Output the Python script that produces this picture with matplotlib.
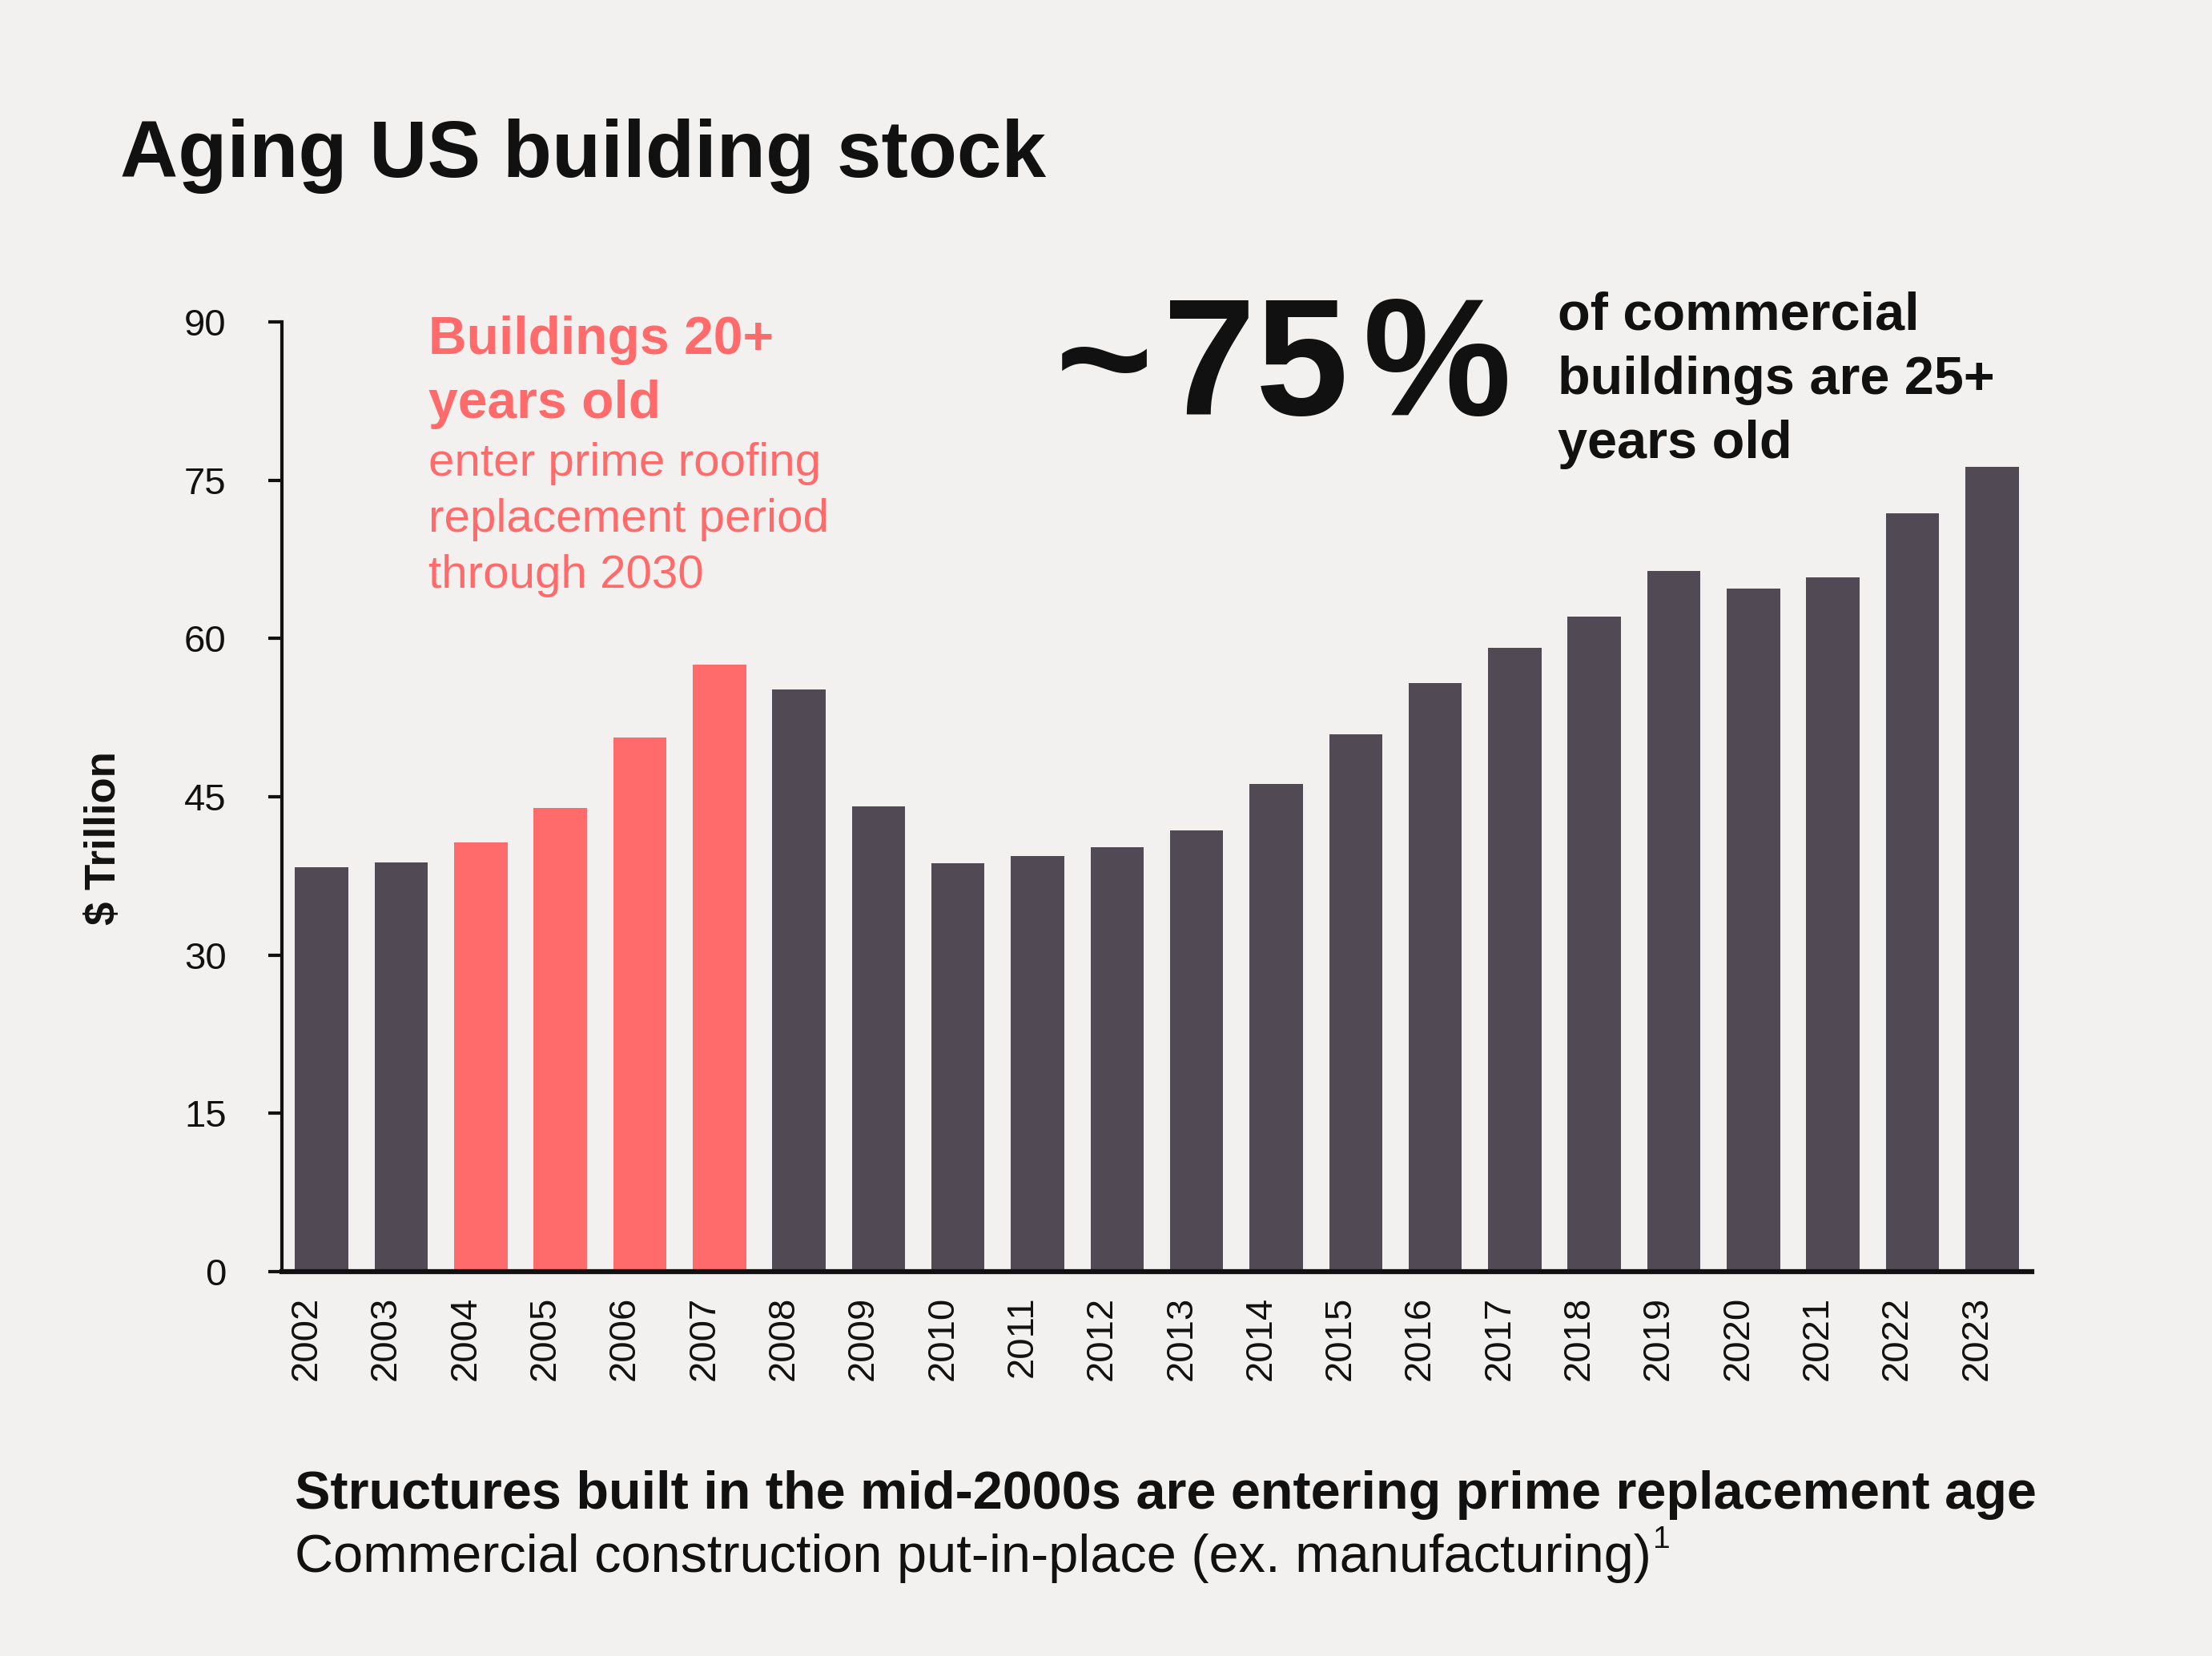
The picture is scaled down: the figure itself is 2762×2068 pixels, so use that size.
import matplotlib
matplotlib.use("Agg")
import matplotlib.pyplot as plt
import matplotlib.transforms as mtransforms

# data
years = [str(y) for y in range(2002, 2024)]
values = [38.3, 38.8, 40.7, 43.9, 50.6, 57.5, 55.2, 44.1, 38.7, 39.4, 40.2,
          41.8, 46.2, 50.9, 55.8, 59.1, 62.1, 66.4, 64.7, 65.8, 71.9, 76.3]
highlight_years = ["2004", "2005", "2006", "2007"]
y_ticks = [0, 15, 30, 45, 60, 75, 90]

BG = "#f2f1ef"
DARK = "#514a55"
CORAL = "#ff6b6b"
INK = "#111111"

plt.rcParams["font.family"] = ["Liberation Sans", "DejaVu Sans"]

W, H = 2762, 2068
fig = plt.figure(figsize=(W / 100, H / 100), dpi=100, facecolor=BG)


def fx(px):
    return px / W


def fy(py):
    return 1 - py / H


ax = fig.add_axes([fx(352), fy(1588), fx(2537) - fx(352), fy(402) - fy(1588)])
ax.set_facecolor(BG)

colors = [CORAL if y in highlight_years else DARK for y in years]
ax.bar(range(len(years)), values, width=0.67, color=colors, zorder=2)

ax.set_xlim(-0.5, len(years) - 0.5)
ax.set_ylim(0, 90)
ax.set_yticks(y_ticks)
ax.set_yticklabels([str(t) for t in y_ticks], fontsize=34, color=INK)
ax.set_xticks(range(len(years)))
ax.set_xticklabels(years, rotation=90, fontsize=34, color=INK)

ax.spines["top"].set_visible(False)
ax.spines["right"].set_visible(False)
ax.spines["left"].set_linewidth(3)
ax.spines["left"].set_color(INK)
ax.spines["bottom"].set_linewidth(4.5)
ax.spines["bottom"].set_color(INK)
ax.tick_params(axis="y", length=12, width=3, pad=38, color=INK)
ax.tick_params(axis="x", length=0, pad=22)

# shift year labels slightly left like the reference
offset = mtransforms.ScaledTranslation(-0.19, 0, fig.dpi_scale_trans)
for lbl in ax.get_xticklabels():
    lbl.set_transform(lbl.get_transform() + offset)

fig.text(fx(130), fy(1047), "$ Trillion", rotation=90, fontsize=38,
         fontweight="bold", color=INK, ha="center", va="center")

# title
fig.text(fx(150), fy(221), "Aging US building stock", fontsize=72,
         fontweight="bold", color=INK, va="baseline")

# highlight annotation
fig.text(fx(535), fy(442), "Buildings 20+", fontsize=47.5, fontweight="bold",
         color=CORAL, va="baseline")
fig.text(fx(535), fy(522), "years old", fontsize=47.5, fontweight="bold",
         color=CORAL, va="baseline")
for i, line in enumerate(["enter prime roofing", "replacement period", "through 2030"]):
    fig.text(fx(535), fy(594 + 70 * i), line, fontsize=42, color=CORAL,
             va="baseline")

# big stat (pieces spaced out to match the wider reference face)
fig.text(fx(1318), fy(518), "~", fontsize=150, fontweight="bold",
         color=INK, va="baseline")
fig.text(fx(1452), fy(518), "75", fontsize=150, fontweight="bold",
         color=INK, va="baseline")
fig.text(fx(1702), fy(518), "%", fontsize=150, fontweight="bold",
         color=INK, va="baseline")
for i, line in enumerate(["of commercial", "buildings are 25+", "years old"]):
    fig.text(fx(1945), fy(412 + 80 * i), line, fontsize=48, fontweight="bold",
             color=INK, va="baseline")

# bottom captions
fig.text(fx(368), fy(1884), "Structures built in the mid-2000s are entering prime replacement age",
         fontsize=48, fontweight="bold", color=INK, va="baseline")
sub = fig.text(fx(368), fy(1963), "Commercial construction put-in-place (ex. manufacturing)",
               fontsize=48, color=INK, va="baseline")
renderer = fig.canvas.get_renderer()
bb = sub.get_window_extent(renderer=renderer)
fig.text(bb.x1 / W + fx(2), fy(1963) + 30 / H, "1", fontsize=28, color=INK,
         va="baseline")

fig.savefig("out.png", dpi=100, facecolor=BG)
